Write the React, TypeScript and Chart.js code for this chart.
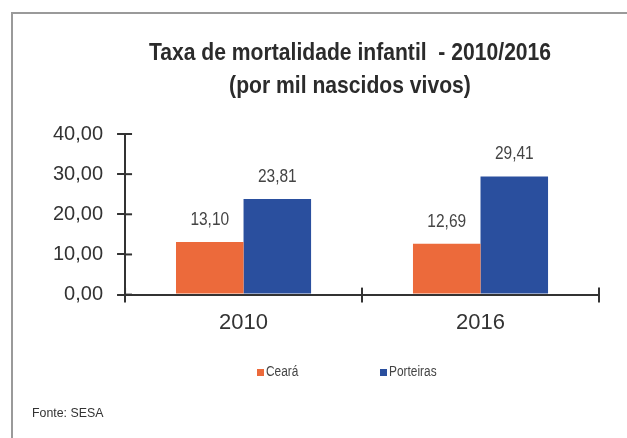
import React, { useEffect, useRef } from "react";
import { Chart, registerables } from "chart.js";

Chart.register(...registerables);

const categories = ["2010", "2016"];
const seriesNames = ["Ceará", "Porteiras"];
const cearaValues = [13.1, 12.69];
const porteirasValues = [23.81, 29.41];
const seriesColors = ["#EC6A3B", "#2A4F9E"];
const titleLines = ["Taxa de mortalidade infantil  - 2010/2016", "(por mil nascidos vivos)"];
const footerText = "Fonte: SESA";

const FONT = "'Liberation Sans', Arial, sans-serif";

const fmt = (v: number) => v.toFixed(2).replace(".", ",");

const drawNarrow = (ctx: CanvasRenderingContext2D, text: string, x: number, y: number, sx: number) => {
  ctx.save();
  ctx.translate(x, y);
  ctx.scale(sx, 1);
  ctx.fillText(text, 0, 0);
  ctx.restore();
};

const decorPlugin = {
  id: "decor",
  afterDraw(chart: any) {
    const ctx = chart.ctx;
    const { chartArea } = chart;
    ctx.save();
    // frame
    ctx.strokeStyle = "#9a9a9a";
    ctx.lineWidth = 2;
    ctx.beginPath();
    ctx.moveTo(12, chart.height);
    ctx.lineTo(12, 13);
    ctx.lineTo(chart.width, 13);
    ctx.stroke();
    // title
    ctx.fillStyle = "#2b2b2b";
    ctx.font = `bold 24px ${FONT}`;
    ctx.textAlign = "center";
    ctx.textBaseline = "middle";
    drawNarrow(ctx, titleLines[0], 350, 53, 0.88);
    drawNarrow(ctx, titleLines[1], 350, 86, 0.88);
    // footer
    ctx.font = `13px ${FONT}`;
    ctx.textAlign = "left";
    ctx.fillStyle = "#333";
    drawNarrow(ctx, footerText, 32, 413, 0.95);
    // legend
    ctx.font = `14px ${FONT}`;
    ctx.textBaseline = "middle";
    const legendX = [257, 380];
    chart.data.datasets.forEach((ds: any, di: number) => {
      const lx = legendX[di];
      ctx.fillStyle = ds.backgroundColor;
      ctx.fillRect(lx, 369, 7, 7);
      ctx.fillStyle = "#444";
      drawNarrow(ctx, ds.label, lx + 9, 372, 0.85);
    });
    // inner tick marks
    ctx.strokeStyle = "#333";
    ctx.lineWidth = 2;
    const ys = chart.scales.y;
    ys.ticks.forEach((t: any) => {
      const py = ys.getPixelForValue(t.value);
      ctx.beginPath();
      ctx.moveTo(chartArea.left, py);
      ctx.lineTo(chartArea.left + 7, py);
      ctx.stroke();
    });
    const xs = chart.scales.x;
    const n = categories.length;
    for (let i = 0; i <= n; i++) {
      const px = xs.getPixelForValue(i - 0.5);
      ctx.beginPath();
      ctx.moveTo(px, chartArea.bottom);
      ctx.lineTo(px, chartArea.bottom - 7);
      ctx.stroke();
    }
    // data labels
    ctx.font = `18px ${FONT}`;
    ctx.fillStyle = "#444";
    ctx.textAlign = "center";
    ctx.textBaseline = "middle";
    chart.data.datasets.forEach((ds: any, di: number) => {
      const meta = chart.getDatasetMeta(di);
      meta.data.forEach((bar: any, i: number) => {
        drawNarrow(ctx, fmt(ds.data[i]), bar.x, bar.y - 22, 0.86);
      });
    });
    ctx.restore();
  },
};

export default function App() {
  const ref = useRef<HTMLCanvasElement>(null);
  useEffect(() => {
    document.body.style.margin = "0";
    const chart = new Chart(ref.current!, {
      type: "bar",
      data: {
        labels: categories,
        datasets: [
          { label: seriesNames[0], data: cearaValues, backgroundColor: seriesColors[0], categoryPercentage: 0.57, barPercentage: 1 },
          { label: seriesNames[1], data: porteirasValues, backgroundColor: seriesColors[1], categoryPercentage: 0.57, barPercentage: 1 },
        ],
      },
      options: {
        responsive: false,
        animation: false,
        devicePixelRatio: 1,
        layout: { padding: { top: 134, right: 28, left: 39, bottom: 95 } },
        plugins: {
          title: { display: false },
          tooltip: { enabled: false },
          legend: { display: false },
        },
        scales: {
          x: {
            offset: true,
            grid: { display: true, drawOnChartArea: false, offset: true, tickLength: 8, color: "#333", lineWidth: 2 },
            border: { color: "#333", width: 2 },
            ticks: { color: "#333", font: { family: FONT, size: 22 }, padding: 7 },
          },
          y: {
            min: 0,
            max: 40,
            grid: { display: true, drawOnChartArea: false, tickLength: 8, color: "#333", lineWidth: 2 },
            border: { color: "#333", width: 2 },
            ticks: {
              stepSize: 10,
              color: "#333",
              font: { family: FONT, size: 20 },
              padding: 14,
              callback: (v: any) => fmt(Number(v)),
            },
          },
        },
      },
      plugins: [decorPlugin],
    });
    return () => chart.destroy();
  }, []);
  return (
    <div style={{ width: 627, height: 438, position: "relative", background: "#fff" }}>
      <canvas ref={ref} width={627} height={438} />
    </div>
  );
}
